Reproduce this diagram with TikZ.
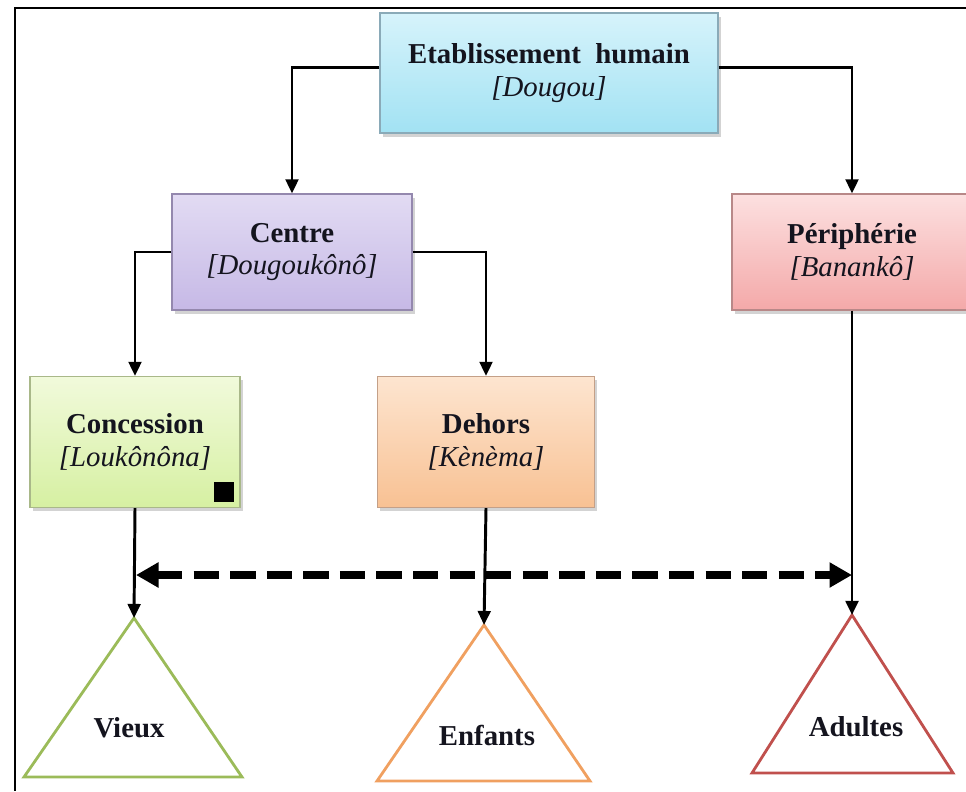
\documentclass[tikz,border=0pt]{standalone}
\usepackage{fontspec}
\setmainfont{Liberation Serif}
\usetikzlibrary{arrows.meta,shadows}

\definecolor{txtdark}{HTML}{14141E}
\definecolor{etabtop}{HTML}{D6F3FB}
\definecolor{etabbot}{HTML}{A2E2F3}
\definecolor{etabline}{HTML}{8AAAB8}
\definecolor{centretop}{HTML}{E2DBF3}
\definecolor{centrebot}{HTML}{C6B9E6}
\definecolor{centreline}{HTML}{9488AE}
\definecolor{peritop}{HTML}{FCE0E0}
\definecolor{peribot}{HTML}{F4A9A9}
\definecolor{periline}{HTML}{B88888}
\definecolor{conctop}{HTML}{F1FADB}
\definecolor{concbot}{HTML}{D6F0A2}
\definecolor{concline}{HTML}{A9B889}
\definecolor{dehorstop}{HTML}{FDE5D0}
\definecolor{dehorsbot}{HTML}{F8C193}
\definecolor{dehorsline}{HTML}{C4A088}
\definecolor{vieuxgreen}{HTML}{9BBB59}
\definecolor{enfantorange}{HTML}{F0A060}
\definecolor{adultered}{HTML}{C0504D}

\begin{document}
\begin{tikzpicture}[x=0.025cm,y=-0.025cm,
    box/.style n args={3}{draw=#3, line width=0.8pt, top color=#1, bottom color=#2,
      drop shadow={opacity=0.35, shadow xshift=2pt, shadow yshift=-2.5pt},
      align=center, text=txtdark, font=\fontsize{20.5}{23}\selectfont},
    tri/.style={draw=#1, line width=2pt, line join=miter},
    trilabel/.style={text=txtdark, font=\bfseries\fontsize{20.5}{23}\selectfont},
    link/.style={line width=2.1pt, -{Triangle[length=10pt,width=9pt]}},
    spread/.style={line width=5pt, dash pattern=on 18pt off 8pt,
      {Triangle[length=16pt,width=17pt]}-{Triangle[length=16pt,width=17pt]}}]
  \useasboundingbox (0,0) rectangle (966,791);
  % frame
  \draw[line width=2pt] (966,8) -- (15,8) -- (15,791);

  % boxes
  \node[box={etabtop}{etabbot}{etabline}, minimum width=8.45cm, minimum height=3cm]
    (etab) at (549,73) {\textbf{Etablissement\ \ humain}\\\textit{[Dougou]}};
  \node[box={centretop}{centrebot}{centreline}, minimum width=6cm, minimum height=2.9cm]
    (centre) at (292,252) {\textbf{Centre}\\\textit{[Dougoukônô]}};
  \node[box={peritop}{peribot}{periline}, minimum width=6cm, minimum height=2.9cm]
    (peri) at (852,252) {\textbf{Périphérie}\\\textit{[Banankô]}};
  \node[box={conctop}{concbot}{concline}, minimum width=5.25cm, minimum height=3.275cm]
    (conc) at (135,442) {\textbf{Concession}\\\textit{[Loukônôna]}};
  \node[box={dehorstop}{dehorsbot}{dehorsline}, minimum width=5.425cm, minimum height=3.275cm]
    (dehors) at (486,442) {\textbf{Dehors}\\\textit{[Kènèma]}};
  \fill (214,482) rectangle (234,502);

  % triangles
  \coordinate (vieuxtop) at (134,618);
  \coordinate (enfanttop) at (484,625);
  \coordinate (adultetop) at (852,615);
  \draw[tri=vieuxgreen] (vieuxtop) -- (242,777) -- (24,777) -- cycle;
  \draw[tri=enfantorange] (enfanttop) -- (590,781) -- (377,781) -- cycle;
  \draw[tri=adultered] (adultetop) -- (953,773) -- (752,773) -- cycle;
  \node[trilabel] (vieux) at (129,728) {Vieux};
  \node[trilabel] (enfants) at (487,735) {Enfants};
  \node[trilabel] (adultes) at (856,727) {Adultes};

  % connectors
  \draw[link] ([yshift=4pt]etab.west) -| (centre.north);
  \draw[link] ([yshift=4pt]etab.east) -| (peri.north);
  \draw[link] (centre.west) -| (conc.north);
  \draw[link] (centre.east) -| (dehors.north);
  \draw[link] (conc.south) -- (vieuxtop);
  \draw[link] (dehors.south) -- (enfanttop);
  \draw[link] (peri.south) -- (adultetop);
  \coordinate (spreadl) at (136,575);
  \coordinate (spreadr) at (852,575);
  \draw[spread] (spreadl) -- (spreadr);
\end{tikzpicture}
\end{document}
